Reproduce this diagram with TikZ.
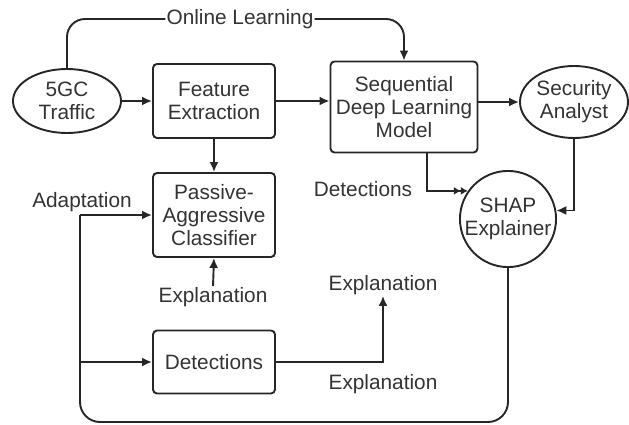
\documentclass[tikz,border=0pt]{standalone}
\usepackage{fontspec}
\setmainfont{Liberation Sans}
\usetikzlibrary{arrows.meta,shapes.geometric}
\definecolor{ink}{HTML}{262626}
\definecolor{txt}{HTML}{333333}
\begin{document}
\begin{tikzpicture}[x=1pt,y=-1pt,
  every node/.style={font=\fontsize{20.8}{23}\selectfont, text=txt, align=center},
  stage/.style={draw=ink, line width=1.9pt, rounded corners=4pt, inner sep=0pt},
  oval/.style={draw=ink, line width=1.9pt, ellipse, inner sep=0pt},
  link/.style={draw=ink, line width=1.9pt, -{Latex[length=10pt,width=9pt]}},
  plain/.style={draw=ink, line width=1.9pt},
  lbl/.style={inner sep=1pt}]
\useasboundingbox (0,0) rectangle (629,425);

% main blocks
\node[oval, minimum width=108, minimum height=64] (tr) at (67,101) {5GC\\Traffic};
\node[stage, minimum width=122, minimum height=74] (fe) at (214,101) {Feature\\Extraction};
\node[stage, minimum width=122, minimum height=84] (pac) at (214,215) {Passive-\\Aggressive\\Classifier};
\node[stage, minimum width=122, minimum height=63] (det) at (214,362) {Detections};
\node[stage, minimum width=147, minimum height=91] (sdl) at (404,107) {Sequential\\Deep Learning\\Model};
\node[oval, minimum width=108, minimum height=72] (sa) at (574,102) {Security\\Analyst};
\node[draw=ink, line width=1.9pt, circle, minimum size=90, inner sep=0pt] (shap) at (508,219) {SHAP\\Explainer};

% labels
\node[lbl] (online) at (240,19) {Online Learning};
\node[lbl] (adapt) at (82,202) {Adaptation};
\node[lbl] (exa) at (213,297) {Explanation};
\node[lbl] (exb) at (383,285) {Explanation};
\node[lbl] (exc) at (383,384) {Explanation};
\node[lbl] (detlab) at (363,189) {Detections};

% helper points of the feedback loop
\coordinate (a1) at (80,215);
\coordinate (a2) at (80,362);
\coordinate (bl) at (80,422);
\coordinate (br) at (shap.south |- bl);
\coordinate (dx) at (383,362);
\coordinate (sq) at (427,153);

% online learning path
\draw[plain, rounded corners=18pt] (tr.north) |- (online.west);
\draw[link, rounded corners=18pt] (online.east) -| (sdl.north);

% forward flow
\draw[link] (tr.east) -- (fe.west);
\draw[link] (fe.east) -- (sdl.west |- fe.east);
\draw[link] (sdl.east |- sa.west) -- (sa.west);
\draw[link] (fe.south) -- (pac.north);
\draw[link] (exa.north) -- (pac.south);

% detections into the explainer
\draw[plain, -{Latex[length=7pt,width=8pt]Latex[length=7pt,width=8pt]}] (sq) |- (shap.145);
\draw[link] (sa.south) |- (shap.10);

% feedback loop
\draw[plain, rounded corners=20pt] (shap.south) -- (br) -- (bl) -- (a1);
\draw[link] (a1) -- (pac.west);
\draw[link] (a2) -- (det.west);
\draw[link] (det.east) -- (dx) -- (exb.south);
\end{tikzpicture}
\end{document}
